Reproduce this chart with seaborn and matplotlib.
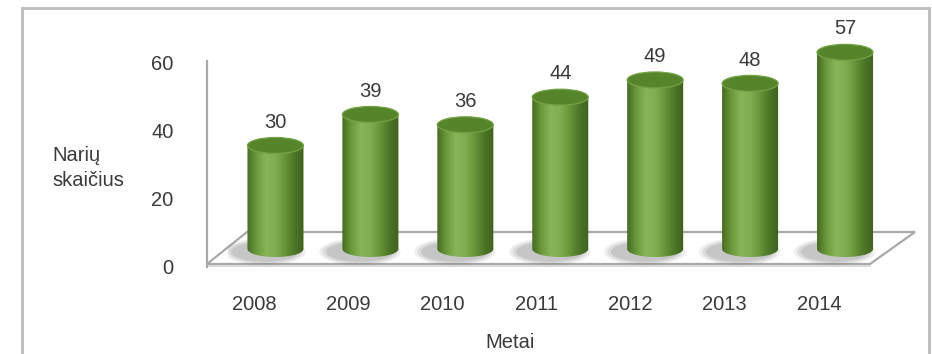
import numpy as np
import matplotlib
matplotlib.use("Agg")
import matplotlib.pyplot as plt
import seaborn as sns
from matplotlib.patches import Ellipse, Polygon, Rectangle
from matplotlib.colors import LinearSegmentedColormap

# Members per year
years = ["2008", "2009", "2010", "2011", "2012", "2013", "2014"]
members = [30, 39, 36, 44, 49, 48, 57]
y_ticks = [0, 20, 40, 60]

W, H = 932, 354
sns.set_theme(style="white")
plt.rcParams["font.family"] = ["Liberation Sans", "DejaVu Sans"]
TXT = "#3a3a3a"
GRID = "#a9a9a9"
FS = 14.5

fig = plt.figure(figsize=(W / 100, H / 100), dpi=100)
fig.patch.set_facecolor("white")


def px_axes(x0, x1, ytop, ybot):
    """Axes rectangle given in pixel coordinates (origin top-left)."""
    return fig.add_axes([x0 / W, 1 - ybot / H, (x1 - x0) / W, (ybot - ytop) / H])


def fx(px):
    return px / W


def fy(py):
    return 1 - py / H


# outer frame
fig.add_artist(Rectangle((fx(22), fy(380)), fx(929) - fx(22), fy(8) - fy(380),
                         transform=fig.transFigure, fill=False,
                         edgecolor="#bcbcbc", linewidth=2, zorder=-2))

# floor of the 3-D plot area
floor = [(207, 264), (870, 264), (915, 232), (247, 232)]
fig.add_artist(Polygon([(fx(x), fy(y)) for x, y in floor], closed=True,
                       transform=fig.transFigure, facecolor="white",
                       edgecolor=GRID, linewidth=1.6, zorder=-1))
fig.add_artist(plt.Line2D([fx(209), fx(870)], [fy(266), fy(266)],
                          transform=fig.transFigure, color="#d9d9d9",
                          linewidth=1.5, zorder=-1))

# front plane: value axis and category labels
ax_front = px_axes(207, 866, 63, 267)
ax_front.set_facecolor("none")
ax_front.set_xlim(-0.5, len(years) - 0.5)
ax_front.set_ylim(0, 60)
ax_front.set_xticks(range(len(years)))
ax_front.set_xticklabels(years)
ax_front.set_yticks(y_ticks)
ax_front.set_yticklabels([str(t) for t in y_ticks])
ax_front.tick_params(axis="both", length=0, labelsize=FS, labelcolor=TXT)
ax_front.tick_params(axis="x", pad=20)
ax_front.tick_params(axis="y", pad=24)
for side in ["top", "right", "bottom"]:
    ax_front.spines[side].set_visible(False)
ax_front.spines["left"].set_color(GRID)
ax_front.spines["left"].set_linewidth(1.6)
ax_front.spines["left"].set_bounds(0, 60.5)
ax_front.set_ylabel("Narių\nskaičius", rotation=0, fontsize=FS, color=TXT,
                    ha="left", va="center", multialignment="left",
                    linespacing=1.45)
ax_front.yaxis.set_label_coords((52 - 207) / (866 - 207), (267 - 168) / (267 - 63))
ax_front.set_xlabel("Metai", fontsize=FS, color=TXT, va="center")
ax_front.xaxis.set_label_coords((510 - 207) / (866 - 207), (267 - 342) / (267 - 63))

# middle plane: the cylinders
ppu = 3.45                       # pixels per unit on the bar plane
y0px = 249
ylo, yhi = -5, 60
ax = px_axes(228, 892.5, y0px - yhi * ppu, y0px - ylo * ppu)
ax.set_facecolor("none")
sns.barplot(x=years, y=members, ax=ax, width=0.59, color="#6e9a3e",
            saturation=1, errorbar=None, zorder=2)
ax.set_xlim(-0.5, len(years) - 0.5)
ax.set_ylim(ylo, yhi)
ax.set_axis_off()

body_cmap = LinearSegmentedColormap.from_list(
    "body", ["#466b22", "#6a9a3c", "#89b458", "#80ad50", "#67953a", "#4d7527", "#3f611d"])
grad = body_cmap(np.linspace(0, 1, 256))[None, :, :]
cap_h = 16 / ppu                 # ellipse height in data units

for bar in list(ax.patches):
    x0, w, h = bar.get_x(), bar.get_width(), bar.get_height()
    xc = x0 + w / 2
    # soft shadow on the floor, falling towards the front left
    for k, a in enumerate([0.10, 0.13, 0.16]):
        s = 1.45 - 0.12 * k
        ax.add_patch(Ellipse((xc - 0.11, -0.8), w * s, cap_h * (1.7 - 0.22 * k),
                             facecolor="#5e5e5e", edgecolor="none", alpha=a, zorder=1))
    # cylinder body: rectangle plus rounded bottom
    t = np.linspace(np.pi, 2 * np.pi, 60)
    arc = np.column_stack([xc + w / 2 * np.cos(t), cap_h / 2 * np.sin(t)])
    outline = np.vstack([[x0, h], arc, [x0 + w, h]])
    body = Polygon(outline, closed=True, facecolor="none", edgecolor="none", zorder=3)
    ax.add_patch(body)
    img = ax.imshow(grad, extent=[x0, x0 + w, -cap_h / 2, h], aspect="auto",
                    interpolation="bilinear", zorder=3)
    img.set_clip_path(body)
    bar.set_visible(False)
    # top cap
    ax.add_patch(Ellipse((xc, h), w, cap_h, facecolor="#56842b",
                         edgecolor="#74a245", linewidth=0.9, zorder=4))

ax.bar_label(ax.containers[0], labels=[str(v) for v in members], padding=10,
             fontsize=FS, color=TXT)

fig.savefig("out.png", dpi=100, facecolor="white")
